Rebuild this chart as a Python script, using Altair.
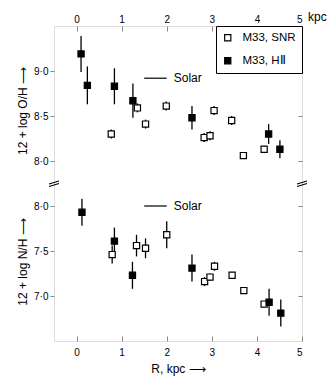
import altair as alt
import pandas as pd

# ---- data ----
oh_snr_R = [0.77, 1.35, 1.53, 1.99, 2.83, 2.96, 3.05, 3.44, 3.70, 4.16]
oh_snr = [8.30, 8.59, 8.41, 8.61, 8.26, 8.28, 8.56, 8.45, 8.06, 8.13]
oh_snr_err = [0.05, 0.05, 0.05, 0.05, 0.05, 0.05, 0.05, 0.05, 0.0, 0.0]

oh_hii_R = [0.10, 0.24, 0.84, 1.25, 2.56, 4.26, 4.51]
oh_hii = [9.19, 8.84, 8.83, 8.67, 8.48, 8.30, 8.13]
oh_hii_err = [0.20, 0.21, 0.20, 0.19, 0.13, 0.11, 0.10]

nh_snr_R = [0.79, 1.33, 1.53, 2.00, 2.84, 2.96, 3.06, 3.45, 3.71, 4.16]
nh_snr = [7.46, 7.56, 7.53, 7.68, 7.16, 7.21, 7.33, 7.23, 7.06, 6.91]
nh_snr_err = [0.10, 0.12, 0.11, 0.15, 0.05, 0.04, 0.05, 0.0, 0.0, 0.0]

nh_hii_R = [0.12, 0.84, 1.24, 2.56, 4.27, 4.53]
nh_hii = [7.93, 7.61, 7.23, 7.31, 6.93, 6.81]
nh_hii_err = [0.15, 0.15, 0.15, 0.15, 0.15, 0.15]

solar_R = [1.5, 2.0]
solar_kind = ["OH", "NH"]
solar_val = [8.92, 8.00]

series_names = ["M33, SNR", "M33, H\u2161"]
x_ticks = [0, 1, 2, 3, 4, 5]
y_ticks = [7.0, 7.5, 8.0, 8.5, 9.0, 9.5]   # combined (broken) axis positions
break_R = [-0.5, 5.0]

FONT = "Liberation Sans"
W, H = 248, 315

rows = []
for Rs, vs, es, kind, ser in [
    (oh_snr_R, oh_snr, oh_snr_err, "OH", series_names[0]),
    (oh_hii_R, oh_hii, oh_hii_err, "OH", series_names[1]),
    (nh_snr_R, nh_snr, nh_snr_err, "NH", series_names[0]),
    (nh_hii_R, nh_hii, nh_hii_err, "NH", series_names[1]),
]:
    for R, v, e in zip(Rs, vs, es):
        rows.append(dict(R=R, v=v, e=e, kind=kind, series=ser))
df = pd.DataFrame(rows)

solar_df = pd.DataFrame(
    dict(R0=[solar_R[0]] * 2, R1=[solar_R[1]] * 2, kind=solar_kind, v=solar_val, t=["Solar", "Solar"])
)
break_df = pd.DataFrame(dict(R=break_R, yc=[8.25, 8.25]))
kpc_df = pd.DataFrame(dict(R=[5], t=["kpc"]))

xscale = alt.Scale(domain=[-0.5, 5], nice=False, zero=False)
yscale = alt.Scale(domain=[6.5, 10.0], nice=False, zero=False)
# upper (O/H) panel is shifted up by 0.5 on the combined broken axis
YC = "(datum.kind == 'OH' ? datum.v + 0.5 : datum.v)"

ax_top_labels = alt.Axis(orient="top", values=x_ticks, ticks=False, domain=False, grid=False,
                         labelPadding=2, title=None, format="d")
ax_bottom_labels = alt.Axis(orient="bottom", values=x_ticks, ticks=False, domain=False, grid=False,
                            labelPadding=6, title="R, kpc \u27f6", titlePadding=6, format="d",
                            titleFontWeight="normal", titleFont=FONT, titleFontSize=12)
ax_top_ticks = alt.Axis(orient="bottom", offset=-H, values=x_ticks, labels=False, domain=False,
                        grid=False, tickSize=5, title=None)
ax_bottom_ticks = alt.Axis(orient="top", offset=-H, values=x_ticks, labels=False, domain=False,
                           grid=False, tickSize=5, title=None)
ax_left = alt.Axis(orient="left", values=y_ticks, domain=False, grid=False, tickSize=4, labelPadding=2,
                   title=None,
                   labelExpr="replace(format(datum.value > 8.25 ? datum.value - 0.5 : datum.value, '.1f'), '.', '\u00b7')")
ax_right_ticks = alt.Axis(orient="left", offset=-W, values=y_ticks, labels=False, domain=False,
                          grid=False, tickSize=4, title=None)

base = alt.Chart(df).transform_calculate(yc=YC, lo=YC + " - datum.e", hi=YC + " + datum.e")

errbars = base.transform_filter("datum.e > 0").mark_rule(color="black", strokeWidth=1.3).encode(
    x=alt.X("R:Q", scale=xscale, axis=ax_top_labels),
    y=alt.Y("lo:Q", scale=yscale, axis=ax_left),
    y2="hi:Q",
)

points = base.mark_point(shape="square", filled=True, stroke="black", strokeWidth=1.2,
                         size=38, opacity=1).encode(
    x=alt.X("R:Q", scale=xscale, axis=ax_bottom_labels),
    y=alt.Y("yc:Q", scale=yscale, axis=ax_right_ticks),
    fill=alt.Fill("series:N", scale=alt.Scale(domain=series_names, range=["white", "black"]),
                  legend=alt.Legend(title=None, orient="top-right", offset=0, padding=6,
                                    strokeColor="black", fillColor="white",
                                    symbolType="square", symbolSize=38, symbolStrokeColor="black",
                                    symbolStrokeWidth=1.2, symbolOpacity=1,
                                    labelFont=FONT, labelFontSize=11.5, labelOffset=9,
                                    rowPadding=10, cornerRadius=0)),
)

solar_base = alt.Chart(solar_df).transform_calculate(yc=YC)
solar_rules = solar_base.mark_rule(color="black", strokeWidth=1.2).encode(
    x=alt.X("R0:Q", scale=xscale, axis=ax_top_ticks),
    x2="R1:Q",
    y=alt.Y("yc:Q", scale=yscale, axis=None),
)
solar_text = solar_base.mark_text(align="left", baseline="middle", dx=7, font=FONT,
                                  fontSize=12, color="black").encode(
    x=alt.X("R1:Q", scale=xscale, axis=ax_bottom_ticks),
    y=alt.Y("yc:Q", scale=yscale, axis=None),
    text="t:N",
)

breaks = alt.Chart(break_df).mark_point(
    shape="M -1 0.1 L 1 -0.5 M -1 0.6 L 1 0", filled=False, color="black",
    strokeWidth=1.2, size=100, opacity=1,
).encode(
    x=alt.X("R:Q", scale=xscale, axis=None),
    y=alt.Y("yc:Q", scale=yscale, axis=None),
)

kpc = alt.Chart(kpc_df).mark_text(align="left", baseline="bottom", dx=6, font=FONT,
                                  fontSize=12, color="black").encode(
    x=alt.X("R:Q", scale=xscale, axis=None),
    y=alt.value(-2),
    text="t:N",
)

one = pd.DataFrame(dict(a=[0]))
title_oh = alt.Chart(one).mark_text(angle=270, font=FONT, fontSize=12, color="black",
                                    baseline="middle", align="center").encode(
    x=alt.value(-31), y=alt.value(85), text=alt.value("12 + log O/H  \u27f6"))
title_nh = alt.Chart(one).mark_text(angle=270, font=FONT, fontSize=12, color="black",
                                    baseline="middle", align="center").encode(
    x=alt.value(-31), y=alt.value(236), text=alt.value("12 + log N/H  \u27f6"))

chart = alt.layer(
    errbars, points, solar_rules, solar_text, breaks, kpc, title_oh, title_nh
).resolve_axis(x="independent", y="independent").properties(
    width=W, height=H,
    autosize=alt.AutoSizeParams(type="none"),
    padding={"left": 54, "top": 26, "right": 33, "bottom": 42},
).configure_view(stroke="black", strokeWidth=1.2).configure_axis(
    labelFont=FONT, labelFontSize=12, labelColor="black", tickColor="black", tickWidth=1.2,
    titleFont=FONT, titleFontSize=12, titleFontWeight="normal", titleColor="black",
).configure(background="white")

chart.save("out.html", embed_options={"renderer": "svg", "actions": False})
